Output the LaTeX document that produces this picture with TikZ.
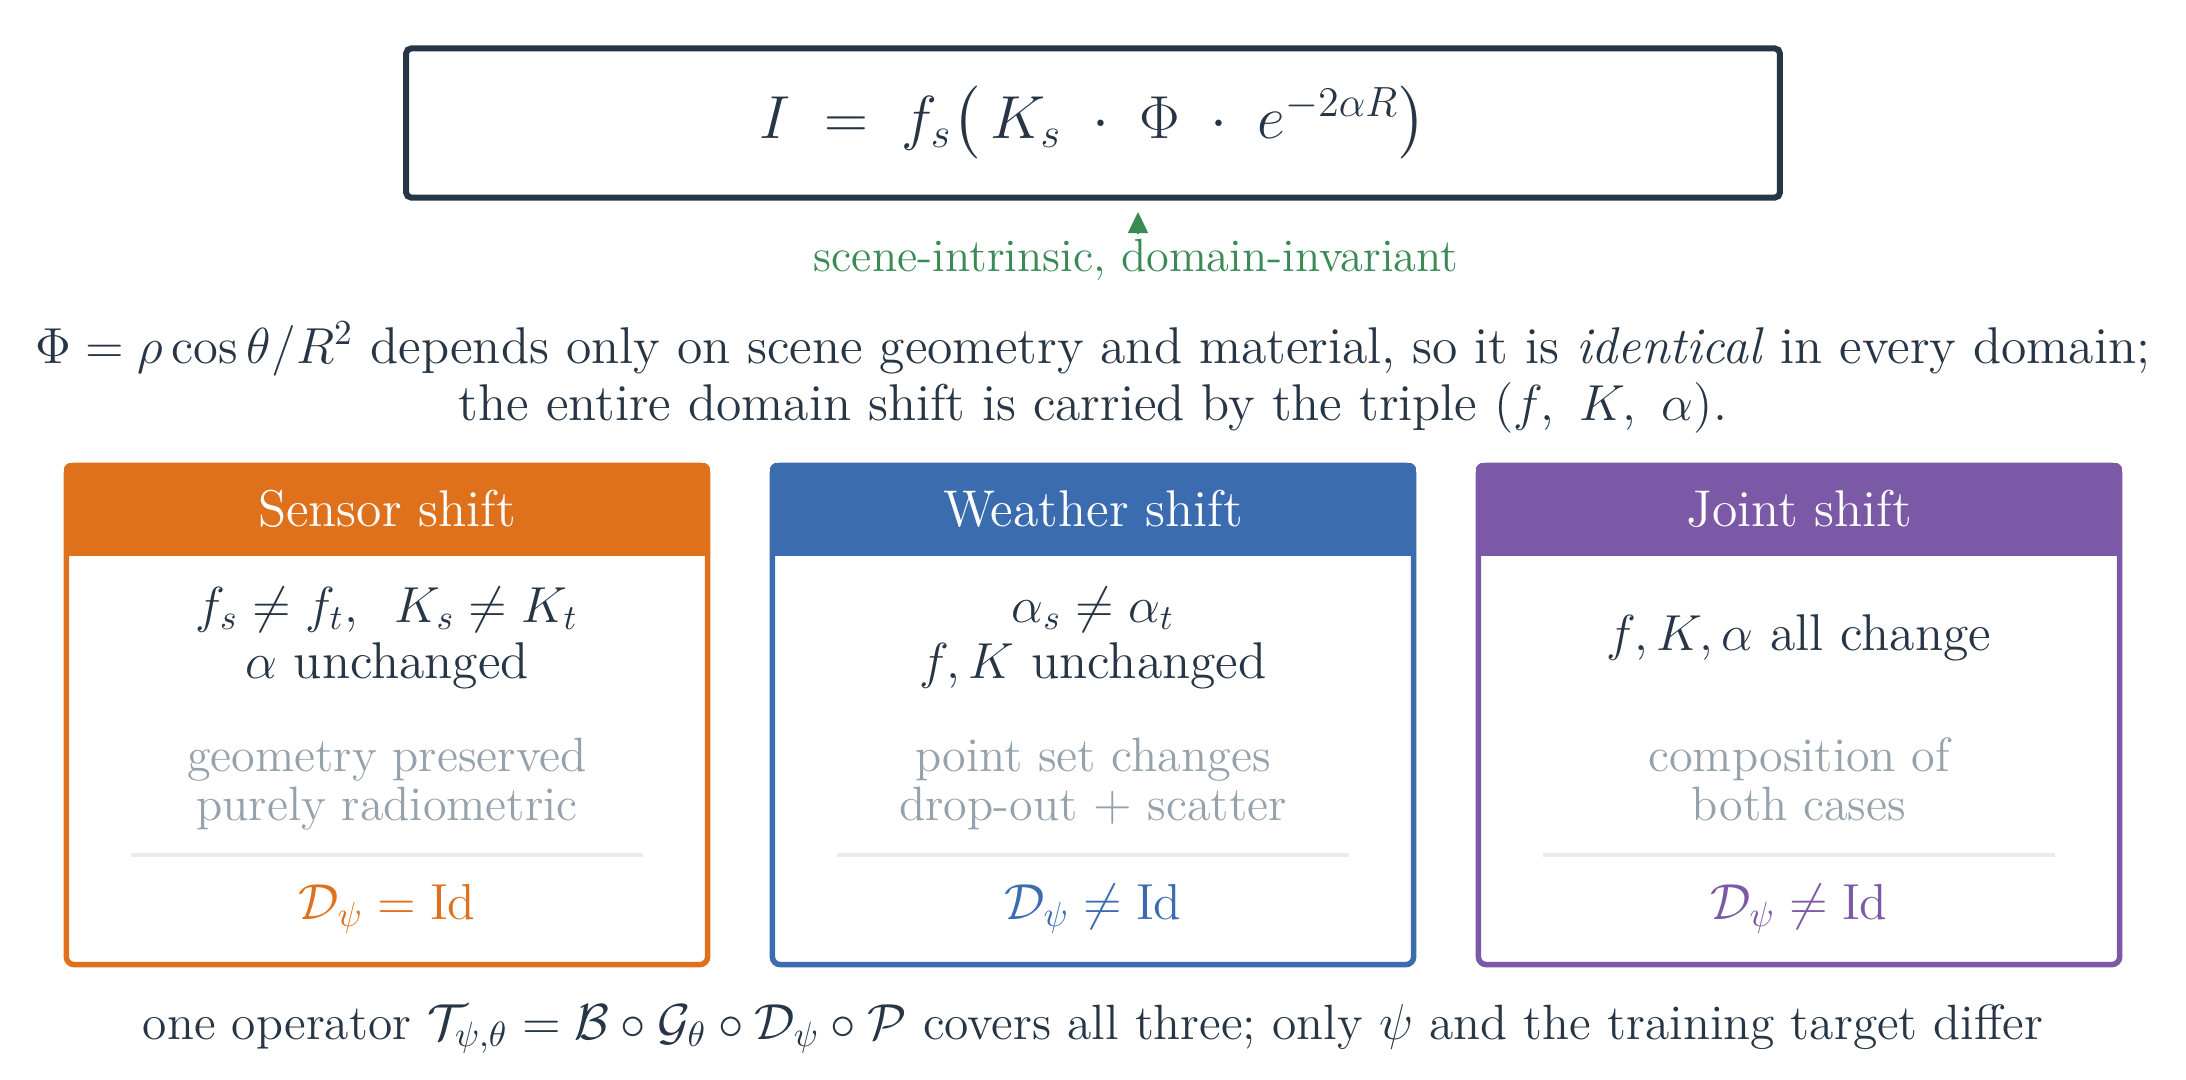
\documentclass[tikz,border=0pt]{standalone}
\usepackage{amsmath}
\usetikzlibrary{arrows.meta}
\definecolor{inkc}{HTML}{263646}
\definecolor{invc}{HTML}{3A8A55}
\definecolor{sensorc}{HTML}{E0711C}
\definecolor{weatherc}{HTML}{3B6CB0}
\definecolor{jointc}{HTML}{7B59A7}
\definecolor{mutec}{HTML}{95A2AC}
\definecolor{rulec}{HTML}{E8ECEF}

\begin{document}
\begin{tikzpicture}[x=0.01cm,y=-0.01cm,
  eqbox/.style={draw=inkc,line width=0.06cm,rounded corners=0.05cm,minimum width=13.73cm,minimum height=1.49cm,text=inkc,font=\fontsize{18.6}{22}\selectfont},
  card/.style={line width=0.055cm,rounded corners=0.08cm,minimum width=6.41cm,minimum height=4.99cm,inner sep=0pt},
  hdr/.style={text=white,anchor=base,font=\fontsize{14.7}{17}\selectfont},
  main/.style={text=inkc,align=center,font=\fontsize{14.7}{15.9}\selectfont},
  mute/.style={text=mutec,align=center,font=\fontsize{13.7}{14.2}\selectfont},
  rel/.style={anchor=base,font=\fontsize{14.9}{17}\selectfont},
  txt/.style={text=inkc,align=center,font=\fontsize{14.7}{14.8}\selectfont}]
\useasboundingbox (0,0) rectangle (2186,1079);
\def\hh{0.93cm}
\def\rw{256}
% top formula
\node[eqbox] (eq) at (1093,123) {$I \;=\; f_s\bigl(\,K_s \;\cdot\; \Phi \;\cdot\; e^{-2\alpha R}\bigr)$};
\node[text=invc,anchor=base,font=\fontsize{13.2}{15}\selectfont] (inv) at (1136,271) {scene-intrinsic, domain-invariant};
\coordinate (phi) at (1138,212);
\coordinate (phibase) at (1138,233);
\draw[invc,-{Triangle[length=0.21cm,width=0.2cm]}] (phibase) -- (phi);
\node[txt] (note) at (1093,379) {$\Phi = \rho\cos\theta/R^2$ depends only on scene geometry and material, so it is \emph{identical} in every domain;\strut\\
  the entire domain shift is carried by the triple $(f,\ K,\ \alpha)$.\strut};
% three cases
\foreach \x/\col/\name/\ttl/\mtxt/\gtxt/\rl in {
  387/sensorc/sensor/Sensor shift/{$f_s \neq f_t,\;\; K_s \neq K_t$\strut\\$\alpha$ unchanged\strut}/{geometry preserved\strut\\purely radiometric\strut}/=,
  1093/weatherc/weather/Weather shift/{$\alpha_s \neq \alpha_t$\strut\\$f,K$ unchanged\strut}/{point set changes\strut\\drop-out $+$ scatter\strut}/\neq,
  1799/jointc/joint/Joint shift/{$f,K,\alpha$ all change\strut}/{composition of\strut\\both cases\strut}/\neq}{
  \node[card,draw=\col] (\name) at (\x,715) {};
  \begin{scope}
    \clip[rounded corners=0.08cm] (\name.south west) rectangle (\name.north east);
    \fill[\col] (\name.north west) rectangle ([yshift=-\hh]\name.north east);
  \end{scope}
  \node[hdr] (\name-h) at (\x,526) {\ttl};
  \node[main] (\name-m) at (\x,639) {\mtxt};
  \node[mute] (\name-g) at (\x,786) {\gtxt};
  \draw[rulec,line width=0.04cm] (\x-\rw,855) -- (\x+\rw,855);
  \node[rel,text=\col] (\name-d) at (\x,919) {$\mathcal{D}_\psi \rl \mathrm{Id}$};
}
\node[txt,anchor=base,font=\fontsize{14.1}{16}\selectfont] (ops) at (1093,1039) {one operator $\mathcal{T}_{\psi,\theta} = \mathcal{B}\circ\mathcal{G}_\theta\circ\mathcal{D}_\psi\circ\mathcal{P}$ covers all three; only $\psi$ and the training target differ};
\end{tikzpicture}
\end{document}
